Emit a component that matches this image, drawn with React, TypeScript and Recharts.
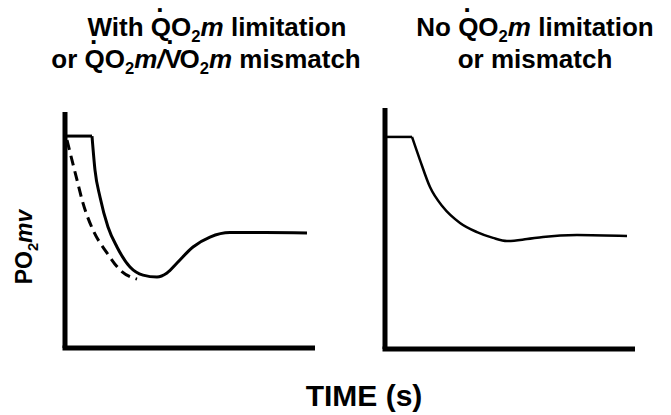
import React from "react";
import { Line, LineChart, ReferenceLine, XAxis, YAxis } from "recharts";

// time (0-100, arbitrary) and PO2mv (0-100, arbitrary)
const leftFlatT = [0, 10.8];
const leftFlatV = [89.8, 89.8];
const leftSolidT = [10.8, 12, 14, 17.2, 20.8, 26, 31.2, 36.8, 40.8, 44.8, 51.2, 58, 66, 80, 96.8];
const leftSolidV = [89.8, 75.4, 64, 51.3, 42.8, 34.3, 30.9, 30.1, 31.8, 36, 42.8, 47, 48.9, 48.9, 48.7];
const leftDashT = [0.8, 4.8, 7.2, 11.2, 16.8, 22, 28.8];
const leftDashV = [88.1, 71.2, 61.4, 50, 40.3, 33.1, 29.2];

const rightFlatT = [0, 10.8];
const rightFlatV = [88, 88];
const rightT = [10.8, 14, 18, 23.2, 30, 36.8, 43.2, 48.8, 56.8, 63.2, 76.8, 96.8];
const rightV = [88, 78.4, 67.2, 58.9, 52.3, 48.5, 46.1, 44.8, 45.6, 46.5, 47.3, 46.9];

// title pieces: plain text, dotted letter, subscript, italic
type Seg = { t: string; dot?: boolean; sub?: boolean; it?: boolean };
const leftTitle1: Seg[] = [
  { t: "With " }, { t: "Q", dot: true }, { t: "O" }, { t: "2", sub: true }, { t: "m", it: true },
  { t: " limitation" }
];
const leftTitle2: Seg[] = [
  { t: "or " }, { t: "Q", dot: true }, { t: "O" }, { t: "2", sub: true }, { t: "m/", it: true },
  { t: "V", dot: true }, { t: "O" }, { t: "2", sub: true }, { t: "m", it: true }, { t: " mismatch" }
];
const rightTitle1: Seg[] = [
  { t: "No " }, { t: "Q", dot: true }, { t: "O" }, { t: "2", sub: true }, { t: "m", it: true },
  { t: " limitation" }
];
const rightTitle2: Seg[] = [{ t: "or mismatch" }];
const yLabel: Seg[] = [{ t: "PO" }, { t: "2", sub: true }, { t: "mv", it: true }];

const zip = (t: number[], v: number[]) => t.map((x, i) => ({ t: x, v: v[i] }));

const FONT = '"Liberation Sans", Arial, Helvetica, sans-serif';
const GLYPH_W: Record<string, number> = { Q: 778, V: 667 };

function segs(list: Seg[], fs: number) {
  const k = fs / 1000;
  const out: React.ReactNode[] = [];
  let dx = 0;
  let dy = 0;
  list.forEach((s, i) => {
    if (s.sub) {
      out.push(
        <tspan key={i} dx={dx} dy={dy + 0.24 * fs} fontSize={fs * 0.64}>
          {s.t}
        </tspan>
      );
      dx = 0;
      dy = -0.24 * fs;
      return;
    }
    out.push(
      <tspan key={i} dx={dx} dy={dy} fontStyle={s.it ? "italic" : "normal"}>
        {s.t}
      </tspan>
    );
    dx = 0;
    dy = 0;
    if (s.dot) {
      const w = GLYPH_W[s.t] ?? 700;
      const off = 40;
      const rise = 0.94 * fs;
      out.push(
        <tspan key={i + "d"} dx={-(w / 2 + 139 + off) * k} dy={-rise}>
          .
        </tspan>
      );
      dx = (w / 2 - 139 + off) * k;
      dy = rise;
    }
  });
  return out;
}

function Panel({
  left,
  top,
  marginTop,
  marginBottom,
  children
}: {
  left: number;
  top: number;
  marginTop: number;
  marginBottom: number;
  children: React.ReactNode;
}) {
  return (
    <div style={{ position: "absolute", left, top }}>
      <LineChart
        width={290}
        height={260}
        margin={{ top: marginTop, right: 15, bottom: marginBottom, left: 25 }}
      >
        <XAxis type="number" dataKey="t" domain={[0, 100]} hide allowDataOverflow />
        <YAxis type="number" domain={[0, 100]} hide allowDataOverflow />
        <ReferenceLine x={0} stroke="#000" strokeWidth={5} ifOverflow="visible" />
        <ReferenceLine
          segment={[
            { x: -1, y: 0 },
            { x: 100, y: 0 }
          ]}
          stroke="#000"
          strokeWidth={5}
          ifOverflow="visible"
        />
        {children}
      </LineChart>
    </div>
  );
}

const TFS = 26;

export default function App() {
  return (
    <div
      style={{
        position: "absolute",
        left: 0,
        top: 0,
        width: 671,
        height: 415,
        background: "#fff",
        fontFamily: FONT
      }}
    >
      <Panel left={40} top={100} marginTop={12} marginBottom={12}>
        <Line
          data={zip(leftFlatT, leftFlatV)}
          dataKey="v"
          type="linear"
          stroke="#000"
          strokeWidth={3}
          dot={false}
          activeDot={false}
          isAnimationActive={false}
        />
        <Line
          data={zip(leftSolidT, leftSolidV)}
          dataKey="v"
          type="monotone"
          stroke="#000"
          strokeWidth={3}
          dot={false}
          activeDot={false}
          isAnimationActive={false}
        />
        <Line
          data={zip(leftDashT, leftDashV)}
          dataKey="v"
          type="monotone"
          stroke="#000"
          strokeWidth={3}
          strokeDasharray="10 6"
          dot={false}
          activeDot={false}
          isAnimationActive={false}
        />
      </Panel>
      <Panel left={360} top={100} marginTop={8} marginBottom={11}>
        <Line
          data={zip(rightFlatT, rightFlatV)}
          dataKey="v"
          type="linear"
          stroke="#000"
          strokeWidth={2.5}
          dot={false}
          activeDot={false}
          isAnimationActive={false}
        />
        <Line
          data={zip(rightT, rightV)}
          dataKey="v"
          type="monotone"
          stroke="#000"
          strokeWidth={2.5}
          dot={false}
          activeDot={false}
          isAnimationActive={false}
        />
      </Panel>

      <svg
        width={671}
        height={415}
        style={{ position: "absolute", left: 0, top: 0, pointerEvents: "none" }}
        fontFamily={FONT}
        fontWeight="bold"
        fill="#000"
      >
        <text x={217} y={36} fontSize={TFS} textAnchor="middle">
          {segs(leftTitle1, TFS)}
        </text>
        <text x={206} y={68} fontSize={TFS} textAnchor="middle">
          {segs(leftTitle2, TFS)}
        </text>
        <text x={535} y={36} fontSize={TFS} textAnchor="middle">
          {segs(rightTitle1, TFS)}
        </text>
        <text x={535} y={68} fontSize={TFS} textAnchor="middle">
          {segs(rightTitle2, TFS)}
        </text>

        <text x={0} y={0} fontSize={23} textAnchor="middle" transform="translate(32,247) rotate(-90)">
          {segs(yLabel, 23)}
        </text>

        <text x={364} y={406} fontSize={30} textAnchor="middle">
          TIME (s)
        </text>
      </svg>
    </div>
  );
}
